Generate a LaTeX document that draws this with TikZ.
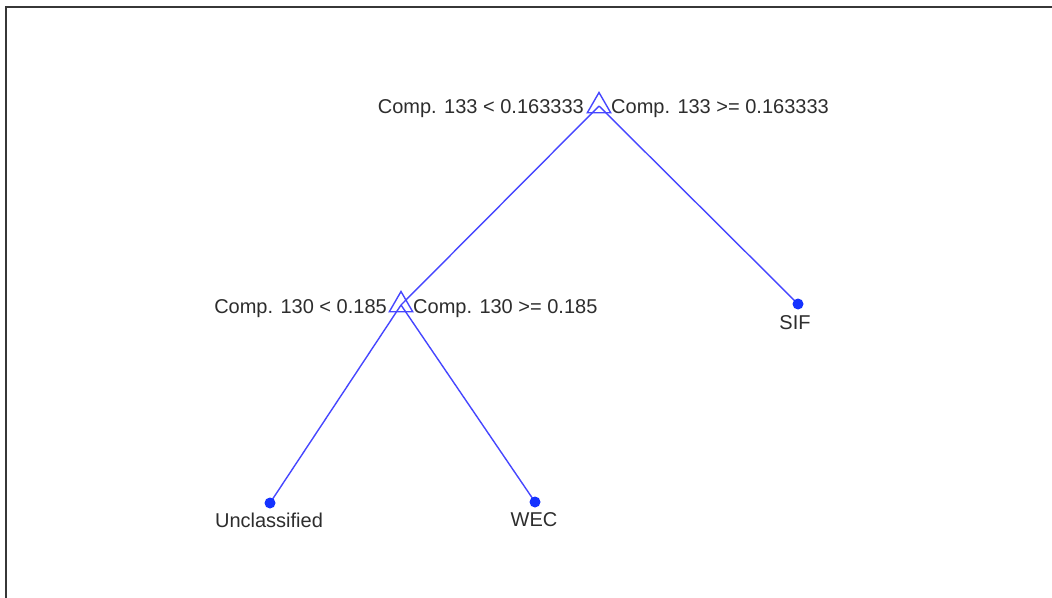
\documentclass[tikz,border=0pt]{standalone}
\usepackage{fontspec}
\setmainfont{Liberation Sans}
\usetikzlibrary{shapes.geometric}
\definecolor{edgeblue}{RGB}{70,70,255}
\definecolor{dotblue}{RGB}{20,50,255}
\definecolor{txtgray}{RGB}{45,45,45}
\definecolor{framegray}{RGB}{55,55,55}
\tikzset{
  edge/.style={draw=edgeblue, line width=1.4pt},
  splitmark/.style={draw=edgeblue, line width=1.4pt, regular polygon, regular polygon sides=3, minimum size=27pt, inner sep=0pt},
  leafdot/.style={circle, fill=dotblue, minimum size=11pt, inner sep=0pt},
  lbl/.style={text=txtgray, font=\fontsize{20}{23}\selectfont, inner sep=0pt},
}
\begin{document}
\begin{tikzpicture}[x=1pt,y=-1pt]
\useasboundingbox (0,0) rectangle (1052,597);
\fill[white] (0,0) rectangle (1052,597);
\draw[framegray, line width=2pt] (6,600) -- (6,6.5) -- (1060,6.5);
% node positions
\coordinate (root) at (599,106);
\coordinate (mid) at (401,305);
\coordinate (unc) at (270,503);
\coordinate (wec) at (535,502);
\coordinate (sif) at (798,304);
% edges
\draw[edge] (root) -- (mid);
\draw[edge] (root) -- (sif);
\draw[edge] (mid) -- (unc);
\draw[edge] (mid) -- (wec);
% split markers
\node[splitmark] (rootmark) at (root) {};
\node[splitmark] (midmark) at (mid) {};
% leaf dots
\node[leafdot] (uncdot) at (unc) {};
\node[leafdot] (wecdot) at (wec) {};
\node[leafdot] (sifdot) at (sif) {};
% labels
\node[lbl, anchor=east] (rootL) at (584,108.5) {Comp. 133 < 0.163333};
\node[lbl, anchor=west] (rootR) at (611,108.5) {Comp. 133 >= 0.163333};
\node[lbl, anchor=east] (midL) at (387,308.5) {Comp. 130 < 0.185};
\node[lbl, anchor=west] (midR) at (413,308.5) {Comp. 130 >= 0.185};
\node[lbl] (uncL) at (269,520) {Unclassified};
\node[lbl] (wecL) at (534,520) {WEC};
\node[lbl] (sifL) at (795,323) {SIF};
\end{tikzpicture}
\end{document}
